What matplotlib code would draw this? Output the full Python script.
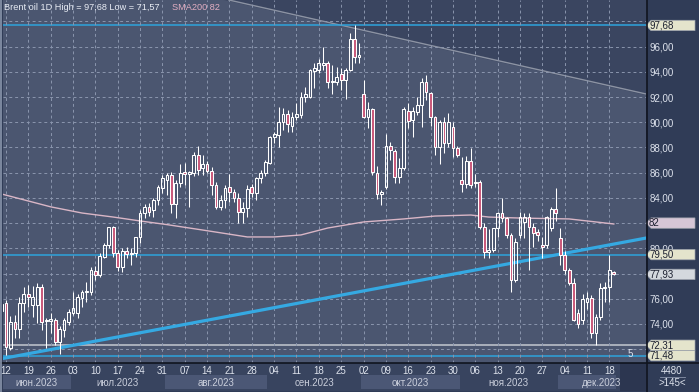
import matplotlib
matplotlib.use("Agg")
import matplotlib.pyplot as plt
import matplotlib.transforms as mtransforms
from matplotlib.patches import Polygon
from matplotlib.lines import Line2D
import numpy as np
import pandas as pd

# daily bars, weekdays from 2023-06-09 to 2023-12-19
dates = pd.bdate_range("2023-06-09", "2023-12-19")

opens = [75.00,
         75.68, 72.06, 74.17, 73.57, 75.63,   # jun 12
         76.37, 75.50, 75.50, 76.90, 74.25,   # jun 19
         74.20, 74.31, 72.59, 73.50, 74.17,   # jun 26
         74.89, 74.84, 76.02, 76.50, 76.56,   # jul 03
         78.22, 77.88, 79.33, 80.26, 81.66,   # jul 10
         79.60, 78.54, 79.81, 79.55, 79.60,   # jul 17
         80.92, 82.83, 83.30, 83.00, 83.83,   # jul 24
         84.76, 85.42, 85.82, 83.52, 85.16,   # jul 31
         86.08, 85.90, 85.95, 87.40, 86.35,   # aug 07
         86.69, 86.16, 85.02, 83.30, 83.84,   # aug 14
         84.84, 84.50, 83.97, 82.91, 83.17,   # aug 21
         84.84, 84.36, 85.55, 85.95, 86.75,   # aug 28
         88.86, 89.00, 90.05, 90.63, 89.70,   # sep 04
         90.45, 90.58, 91.98, 92.04, 94.10,   # sep 11
         94.15, 94.55, 94.68, 93.17, 93.23,   # sep 18
         93.81, 93.36, 94.15, 96.59, 95.16,   # sep 25
         92.25, 90.45, 91.03, 86.00, 84.31,   # oct 02
         84.89, 88.15, 87.75, 85.69, 86.35,   # oct 09
         90.92, 90.20, 90.85, 91.37, 93.23,   # oct 16
         92.30, 90.40, 88.07, 90.05, 88.33,   # oct 23
         89.60, 87.94, 85.42, 85.10, 86.95,   # oct 30
         85.15, 85.25, 81.71, 79.73, 79.86,   # nov 06
         81.58, 82.77, 82.37, 81.05, 77.48,   # nov 13
         81.05, 82.10, 82.50, 81.71, 81.30,   # nov 20
         80.26, 80.26, 81.58, 83.09, 80.79,   # nov 27
         79.46, 78.27, 77.22, 74.90, 74.31,   # dec 04
         75.76, 76.08, 73.30, 74.57, 76.82,   # dec 11
         76.95, 78.10]                        # dec 18

highs = [75.70,
         75.90, 74.62, 74.70, 76.16, 76.95,
         77.08, 77.00, 77.22, 77.20, 74.45,
         74.89, 74.50, 73.80, 74.50, 75.20,
         76.56, 76.40, 76.70, 77.35, 78.54,
         78.60, 79.60, 80.40, 81.70, 81.75,
         79.90, 80.00, 80.10, 80.00, 80.90,
         83.03, 83.50, 83.60, 84.00, 85.00,
         85.82, 86.00, 86.08, 85.40, 86.69,
         86.75, 86.10, 87.67, 88.12, 87.40,
         86.90, 86.48, 85.30, 84.23, 85.02,
         85.90, 84.70, 84.36, 83.70, 85.02,
         85.10, 85.69, 86.20, 87.00, 88.90,
         89.26, 91.24, 91.10, 90.98, 90.80,
         91.50, 92.43, 92.83, 94.20, 94.68,
         94.99, 96.00, 94.90, 94.55, 94.42,
         94.28, 94.28, 97.06, 97.68, 96.32,
         93.36, 91.64, 91.10, 86.53, 84.60,
         89.05, 88.46, 87.90, 87.14, 91.20,
         91.50, 91.20, 91.98, 93.49, 93.75,
         92.40, 90.50, 90.20, 90.45, 90.77,
         90.05, 88.10, 87.27, 87.30, 87.93,
         85.90, 85.40, 81.98, 81.50, 81.60,
         82.90, 83.96, 82.50, 81.20, 80.80,
         82.90, 82.80, 82.77, 81.98, 81.50,
         80.90, 82.60, 83.30, 84.76, 81.58,
         79.80, 78.40, 77.61, 75.20, 76.40,
         76.55, 76.30, 74.80, 77.27, 77.35,
         79.47, 78.20]

lows = [74.90,
        71.57, 71.93, 72.85, 72.85, 74.97,
        75.37, 74.57, 74.05, 73.50, 72.06,
        73.25, 72.30, 71.60, 73.00, 73.90,
        74.70, 74.50, 75.37, 75.76, 76.30,
        77.50, 77.70, 79.20, 80.00, 79.30,
        78.22, 78.14, 79.20, 78.67, 79.30,
        80.39, 82.40, 82.60, 82.50, 83.40,
        84.36, 84.23, 82.78, 82.38, 84.90,
        85.03, 83.30, 85.70, 85.82, 85.82,
        85.95, 84.23, 83.09, 83.04, 83.17,
        83.70, 83.70, 81.98, 81.98, 82.50,
        84.10, 83.83, 85.20, 85.70, 86.70,
        88.33, 88.07, 89.39, 89.26, 89.26,
        90.20, 90.30, 91.60, 91.90, 92.70,
        93.90, 94.15, 92.70, 92.25, 92.96,
        92.56, 91.82, 94.10, 94.73, 94.73,
        90.30, 89.52, 85.82, 83.89, 83.44,
        84.70, 87.00, 85.16, 85.16, 86.20,
        89.52, 88.86, 90.60, 89.60, 91.77,
        89.70, 87.40, 86.70, 87.54, 88.00,
        87.27, 87.27, 84.50, 84.76, 84.80,
        84.90, 81.50, 79.20, 79.20, 79.70,
        80.90, 82.10, 80.79, 76.55, 77.30,
        80.79, 80.80, 78.30, 80.10, 80.60,
        79.20, 80.00, 81.40, 82.20, 78.67,
        78.00, 77.08, 74.20, 73.64, 74.00,
        75.20, 72.85, 72.31, 74.30, 75.76,
        75.76, 77.90]

closes = [75.60,
          72.19, 74.17, 73.57, 75.63, 76.37,
          76.10, 76.16, 76.90, 74.18, 74.35,
          74.40, 72.59, 73.57, 74.31, 74.97,
          75.23, 76.16, 76.56, 76.60, 78.28,
          77.88, 79.40, 80.26, 81.66, 79.60,
          78.54, 79.81, 79.54, 79.60, 80.87,
          82.83, 83.30, 82.90, 83.83, 84.89,
          85.55, 85.82, 83.52, 85.21, 86.00,
          85.90, 86.08, 87.40, 86.22, 86.69,
          86.16, 85.02, 83.30, 83.84, 84.76,
          84.50, 83.97, 82.91, 83.17, 84.68,
          84.36, 85.55, 85.95, 86.88, 88.86,
          89.07, 90.05, 90.63, 89.87, 90.45,
          90.63, 92.04, 92.25, 94.15, 94.28,
          94.68, 94.73, 93.23, 93.30, 93.57,
          93.36, 94.15, 96.59, 95.16, 95.34,
          90.45, 91.03, 86.08, 84.31, 84.44,
          88.15, 87.80, 85.69, 86.35, 91.03,
          90.10, 90.92, 91.37, 93.23, 92.43,
          90.40, 88.07, 90.05, 88.33, 90.05,
          87.94, 87.40, 85.10, 86.95, 85.02,
          85.25, 81.71, 79.73, 79.87, 81.58,
          82.77, 82.37, 81.05, 77.48, 80.52,
          82.50, 82.50, 81.71, 81.24, 81.05,
          80.07, 82.50, 83.09, 82.82, 79.46,
          78.27, 77.22, 74.31, 74.00, 75.95,
          76.08, 73.30, 74.57, 76.82, 76.95,
          78.27, 77.93]

# SMA200 read at a few bars
sma_idx = [0, 11, 18, 25, 31, 37, 45, 55, 61, 67, 73, 81, 90, 97, 105, 109, 116, 127, 133, 137]
sma_val = [84.31, 83.29, 82.80, 82.48, 82.17, 81.88, 81.45, 80.90, 80.90, 81.06,
           81.61, 82.09, 82.33, 82.56, 82.64, 82.48, 82.40, 82.33, 82.09, 81.93]

# trend lines (bar index, price)
support_pts = [(0, 71.24), (144, 80.80)]
resist_pts = [(60, 98.97), (140, 92.58)]

# horizontal levels
level_vals = [97.68, 79.50, 72.31, 71.48]
level_cols = ['#2ea3dc', '#2ea3dc', '#c4c8d0', '#2ea3dc']

# price tags on the right scale
tag_vals = [97.68, 82.0, 79.50, 77.93, 72.31, 71.48]
tag_text = ['97,68', '82', '79,50', '77,93', '72,31', '71,48']
tag_cols = ['#e4e4cc', '#d6c6d6', '#e4e4cc', '#d4d8de', '#e4e4cc', '#e4e4cc']

# scale labels hidden under the tags
hidden_ticks = [72, 78, 82, 98]

month_names = ['июн.2023', 'июл.2023', 'авг.2023', 'сен.2023', 'окт.2023', 'ноя.2023', 'дек.2023']

BG = '#4b5670'
DARK = '#3a4560'
PANEL = '#303c57'
GRID = '#8a95ad'
TXT = '#dde2ec'

plt.rcParams['font.family'] = ['Liberation Sans', 'DejaVu Sans']

W, H = 699, 392
fig = plt.figure(figsize=(W / 100, H / 100), dpi=100)
fig.patch.set_facecolor(PANEL)

ax = fig.add_axes([3 / W, 29 / H, 643 / W, 363 / H])
ax.set_facecolor(BG)
for s in ax.spines.values():
    s.set_visible(False)

x = np.arange(len(closes))
o = np.array(opens)
hi = np.array(highs)
lo = np.array(lows)
c = np.array(closes)

xmin, xmax = 0.33, 144.2
ax.set_xlim(xmin, xmax)
ax.set_ylim(70.9, 99.7)

# dark area above the falling resistance line
(rx0, ry0), (rx1, ry1) = resist_pts
slope = (ry1 - ry0) / (rx1 - rx0)
xx = np.array([xmin - 5, xmax + 5])
ax.fill_between(xx, ry0 + slope * (xx - rx0), 110, color=DARK, zorder=0)
ax.axline(resist_pts[0], resist_pts[1], color='#8c93a3', lw=1.0, zorder=1)

# grid
mondays = [i for i, d in enumerate(dates) if d.weekday() == 0]
yt = np.arange(72, 99, 2)
ax.set_xticks(mondays)
ax.set_yticks(yt)
ax.grid(True, color=GRID, lw=0.7, ls=(0, (3, 3)), zorder=0.5)
ax.tick_params(axis='x', length=0, labelbottom=False)
ax.yaxis.tick_right()
ax.tick_params(axis='y', length=0, pad=2.5, labelsize=7, labelcolor=TXT)
ax.set_yticklabels(['' if v in hidden_ticks else f"{v:.2f}".replace('.', ',') for v in yt])

# levels, trend line, SMA
for v, col in zip(level_vals, level_cols):
    ax.axhline(v, color=col, lw=1.1, zorder=1.5)
ax.axline(support_pts[0], support_pts[1], color='#35a9e2', lw=2.3, zorder=1.6)
ax.plot(sma_idx, sma_val, color='#d9b6c6', lw=1.0, zorder=1.7)

# candles
body_lo = np.minimum(o, c)
body_hi = np.maximum(o, c)
up = c >= o
ax.vlines(x, body_hi, hi, color='white', lw=0.75, zorder=3)
ax.vlines(x, lo, body_lo, color='white', lw=0.75, zorder=3)
hgt = np.maximum(body_hi - body_lo, 0.05)
ax.bar(x[up], hgt[up], bottom=body_lo[up], width=0.62, facecolor='none',
       edgecolor='white', linewidth=0.75, zorder=3)
ax.bar(x[~up], hgt[~up], bottom=body_lo[~up], width=0.62, facecolor='#c9587a',
       edgecolor='white', linewidth=0.75, zorder=3)

# price tags
trans = mtransforms.blended_transform_factory(fig.transFigure, ax.transData)
hh = 5.2 / 12.6
for v, t, col in zip(tag_vals, tag_text, tag_cols):
    pts = [(646 / W, v), (651 / W, v + hh), (695 / W, v + hh), (695 / W, v - hh), (651 / W, v - hh)]
    ax.add_patch(Polygon(pts, closed=True, transform=trans, facecolor=col,
                         edgecolor='#9aa0aa', lw=0.5, clip_on=False, zorder=10))
    ax.text(649 / W, v, t, transform=trans, fontsize=7, color='#1c2030',
            va='center', ha='left', zorder=11, clip_on=False)

ax.text(0.975, 0.025, '5', transform=ax.transAxes, fontsize=7, color=TXT, ha='center', va='center')

# bottom date strip
axb = fig.add_axes([3 / W, 1 / H, 643 / W, 28 / H])
axb.set_facecolor('#38445f')
for s in axb.spines.values():
    s.set_visible(False)
axb.set_xlim(xmin, xmax)
axb.set_ylim(0, 1)
axb.set_xticks([])
axb.set_yticks([])

month_of = np.array([d.month for d in dates])
for k, m in enumerate(range(6, 13)):
    idx = np.where(month_of == m)[0]
    a, b = idx[0] - 0.5, idx[-1] + 0.5
    if k % 2 == 0:
        axb.axvspan(a, b, ymin=0.06, ymax=0.56, color='#4b5775', lw=0)
    full_end = a + 22 if m == 12 else b
    cx = (max(a, xmin) + min(full_end, xmax)) / 2
    axb.text(cx, 0.3, month_names[k], fontsize=7, color='#c9cedb', ha='center', va='center')
axb.axvspan(len(closes) + 0.4, xmax, color='#2c3650', lw=0)

for i in mondays:
    axb.text(i, 0.72, dates[i].strftime('%d'), fontsize=7, color=TXT, ha='center', va='center')

# separators and right-bottom info
fig.add_artist(Line2D([646.5 / W, 646.5 / W], [0, 1], color='#10141f', lw=1.2))
fig.add_artist(Line2D([0, 1], [29 / H, 29 / H], color='#10141f', lw=1.2))
fig.add_artist(Line2D([1 / W, 1 / W], [0, 1], color='#8a96ac', lw=1.2))
fig.text(672 / W, 1 - 371 / H, '4480', fontsize=7, color=TXT, ha='center', va='center')
fig.add_artist(Line2D([660 / W, 685 / W], [1 - 377 / H, 1 - 377 / H], color='#8a94aa', lw=0.6))
fig.text(672 / W, 1 - 383 / H, '>145<', fontsize=7, color=TXT, ha='center', va='center')

# header
fig.text(4 / W, 1 - 8 / H, 'Brent oil 1D High = 97,68 Low = 71,57', fontsize=6.6,
         color='#e8ecf4', va='center')
fig.text(172 / W, 1 - 8 / H, 'SMA200 82', fontsize=6.6, color='#e2aec2', va='center')

fig.savefig('out.png', dpi=100, facecolor=fig.get_facecolor())
